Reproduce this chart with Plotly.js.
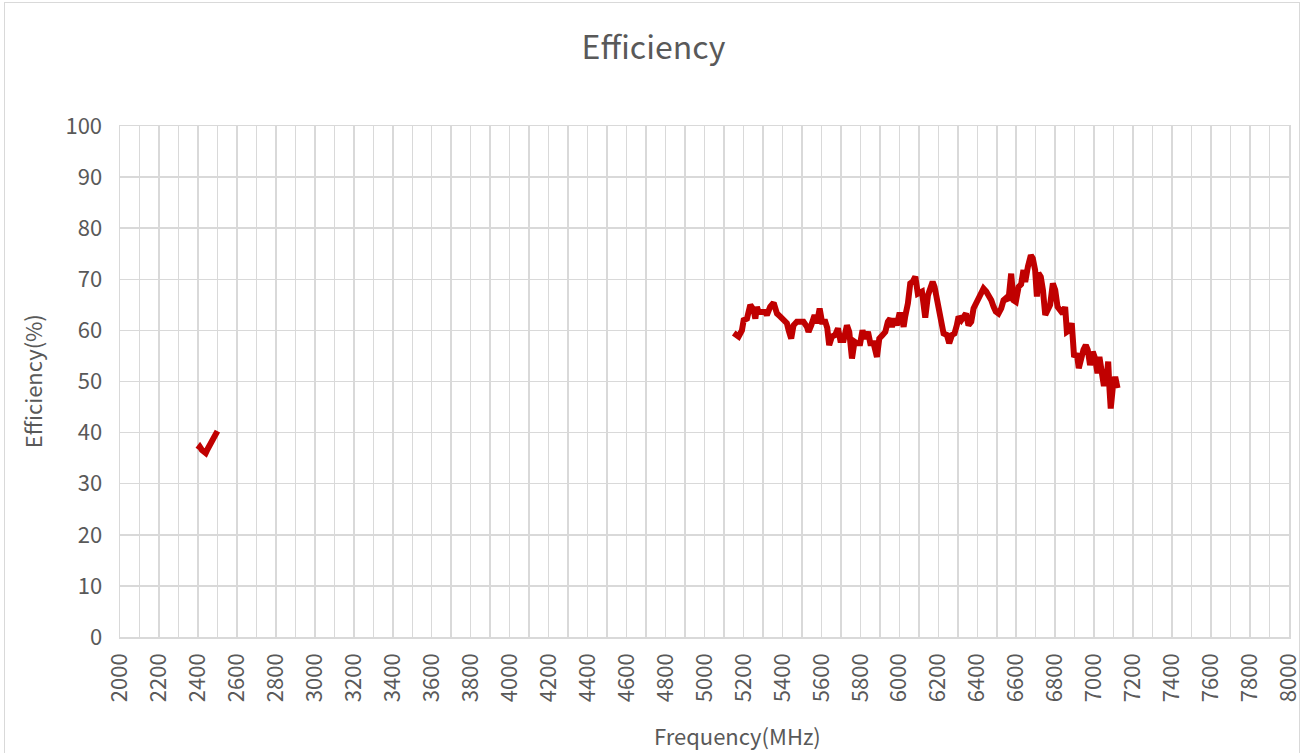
<!DOCTYPE html>
<html>
<head>
<meta charset="utf-8">
<script src="https://cdn.plot.ly/plotly-3.0.1.min.js"></script>
<style>
html,body{margin:0;padding:0;background:#fff;}
#frame{position:absolute;left:4px;top:2px;width:1296px;height:770px;border:1px solid #D9D9D9;box-sizing:border-box;pointer-events:none;}
#chart{position:absolute;left:0;top:0;width:1307px;height:753px;}
</style>
</head>
<body>
<div id="chart"></div>
<div id="frame"></div>
<script>
// Low band (2.4 GHz)
const freqLow = [2400, 2410, 2420, 2430, 2440, 2450, 2460, 2470, 2480, 2490, 2500];
const effLow  = [36.7, 37.2, 36.6, 36.2, 36.0, 36.8, 37.6, 38.5, 39.3, 40.0, 40.3];

// High band (5-7 GHz)
const freqHigh = [5150,5160,5175,5192,5201,5218,5235,5252,5261,5269,5278,5295,5312,5320,5337,5355,5372,5389,5406,5423,5432,5445,5457,5474,5491,5508,5526,5534,5548,5565,5577,5591,5603,5620,5630,5640,5654,5671,5685,5697,5714,5731,5743,5757,5770,5782,5799,5811,5825,5839,5851,5868,5885,5897,5914,5928,5941,5953,5962,5975,5987,5999,6010,6022,6030,6044,6056,6068,6082,6095,6116,6133,6147,6159,6171,6181,6193,6205,6215,6227,6244,6256,6270,6283,6295,6304,6318,6330,6342,6355,6369,6381,6393,6407,6420,6432,6446,6458,6472,6484,6495,6509,6523,6535,6547,6560,6574,6586,6598,6612,6625,6637,6646,6660,6675,6685,6697,6706,6714,6726,6737,6749,6761,6774,6788,6800,6812,6826,6839,6851,6860,6872,6885,6897,6911,6921,6933,6945,6957,6967,6979,6993,7005,7017,7027,7039,7048,7061,7072,7079,7085,7096,7108,7120];
const effHigh  = [59.5,59.3,58.8,60.0,62.0,62.3,65.0,64.0,62.3,64.6,63.6,63.6,63.6,63.0,64.6,65.4,63.3,62.7,62.0,61.4,60.0,58.4,61.0,61.7,61.7,61.7,60.7,59.7,61.0,63.0,61.4,64.3,61.7,61.7,60.5,57.1,58.8,59.1,60.4,58.1,58.1,61.0,59.7,54.5,57.8,57.5,57.5,60.0,58.4,59.7,57.5,57.5,54.8,58.4,59.1,59.7,61.7,62.3,60.7,62.3,61.0,63.0,63.0,60.7,62.7,65.3,69.2,69.5,70.5,67.2,67.6,62.5,66.9,67.9,69.5,68.5,65.9,64.6,61.0,59.4,59.1,57.5,59.1,59.4,61.0,62.7,62.0,63.0,63.3,61.0,61.7,64.3,65.3,66.6,67.2,68.2,67.6,66.9,65.9,64.6,63.7,63.3,64.3,65.9,66.3,65.9,71.1,65.9,65.6,68.5,69.0,71.8,69.5,72.5,74.7,74.1,71.8,66.6,71.2,70.5,67.9,63.0,64.3,65.0,69.2,67.9,64.6,63.7,63.3,64.6,59.7,60.0,61.4,54.8,55.5,52.6,54.8,56.2,57.1,56.2,53.2,55.8,54.5,51.6,54.8,52.2,49.6,49.6,53.9,48.3,44.7,49.0,50.9,48.7];

const chartTitle = 'Efficiency';
const xTitle = 'Frequency(MHz)';
const yTitle = 'Efficiency(%)';

const lineStyle = {color:'#C00000', width:6};
const traces = [
  {x:freqLow, y:effLow, type:'scatter', mode:'lines', line:lineStyle, hoverinfo:'x+y'},
  {x:freqHigh, y:effHigh, type:'scatter', mode:'lines', line:lineStyle, hoverinfo:'x+y'}
];

const fontFam = '"Noto Sans CJK SC", "Noto Sans", sans-serif';
const layout = {
  width:1307, height:753,
  margin:{l:119.5, r:18, t:126, b:116},
  paper_bgcolor:'rgba(0,0,0,0)', plot_bgcolor:'#fff',
  showlegend:false,
  font:{family:fontFam, color:'#595959', size:22},
  title:{text:chartTitle, x:0.5, xanchor:'center', y:0.936, yanchor:'middle', font:{size:32, color:'#595959', family:fontFam}},
  xaxis:{
    range:[2000,8000], dtick:200, tick0:2000, tickangle:-90,
    showgrid:true, gridcolor:'#D9D9D9', gridwidth:1.5,
    minor:{dtick:100, showgrid:true, gridcolor:'#D9D9D9', gridwidth:1.5},
    zeroline:false, showline:true, linecolor:'#D9D9D9', linewidth:1.5, mirror:true,
    ticks:'outside', ticklen:6, tickcolor:'rgba(0,0,0,0)',
    tickfont:{size:22, color:'#595959'}, fixedrange:true
  },
  yaxis:{
    range:[0,100], dtick:10, tick0:0,
    showgrid:true, gridcolor:'#D9D9D9', gridwidth:1.5,
    zeroline:false, showline:true, linecolor:'#D9D9D9', linewidth:1.5, mirror:true,
    ticks:'outside', ticklen:12, tickcolor:'rgba(0,0,0,0)',
    tickfont:{size:22, color:'#595959'}, fixedrange:true
  },
  annotations:[
    {text:xTitle, xref:'paper', yref:'paper', x:0.5285, y:-0.192, xanchor:'center', yanchor:'middle', showarrow:false, font:{size:22, color:'#595959', family:fontFam}},
    {text:yTitle, xref:'paper', yref:'paper', x:-0.0755, y:0.50, xanchor:'center', yanchor:'middle', textangle:-90, showarrow:false, font:{size:22, color:'#595959', family:fontFam}}
  ]
};
Plotly.newPlot('chart', traces, layout, {displayModeBar:false, staticPlot:true});
</script>
</body>
</html>
